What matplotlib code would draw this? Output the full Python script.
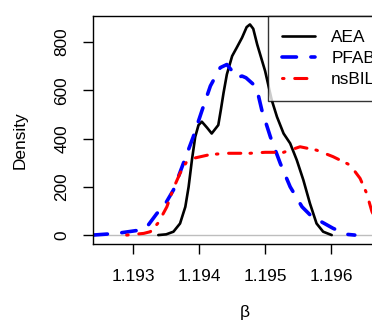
import matplotlib
matplotlib.use("Agg")
import matplotlib.pyplot as plt

# density curves
aea_x = [1.19338, 1.19350, 1.19361, 1.19371, 1.19379, 1.19384, 1.19389, 1.19394, 1.19399,
         1.19404, 1.19412, 1.19419, 1.19429, 1.19433, 1.19437, 1.19442, 1.19450, 1.19457,
         1.19465, 1.19472, 1.19477, 1.19482, 1.19488, 1.19500, 1.19510, 1.19518, 1.19528,
         1.19538, 1.19548, 1.19558, 1.19568, 1.19578, 1.19588, 1.19601]
aea_y = [0, 3, 14, 48, 117, 200, 311, 407, 456,
         470, 445, 421, 456, 521, 590, 666, 742, 777,
         818, 862, 873, 855, 790, 680, 560, 490, 421,
         380, 311, 228, 131, 48, 14, 0]

pfab_x = [1.19239, 1.19275, 1.19311, 1.19321, 1.19336, 1.19346, 1.19361, 1.19376, 1.19391,
          1.19404, 1.19417, 1.19432, 1.19442, 1.19450, 1.19457, 1.19465, 1.19471, 1.19485,
          1.19490, 1.19495, 1.19508, 1.19523, 1.19538, 1.19556, 1.19571, 1.19588, 1.19603,
          1.19624, 1.19636]
pfab_y = [0, 7, 21, 35, 90, 117, 187, 297, 407,
          514, 618, 694, 707, 680, 652, 659, 652, 618,
          576, 518, 407, 297, 200, 117, 76, 51, 28,
          3, 0]

nsbil_x = [1.19290, 1.19316, 1.19326, 1.19338, 1.19351, 1.19361, 1.19371, 1.19381, 1.19391,
           1.19417, 1.19444, 1.19477, 1.19500, 1.19528, 1.19553, 1.19578, 1.19603, 1.19629,
           1.19644, 1.19654, 1.19662, 1.19675, 1.19690]
nsbil_y = [0, 7, 14, 51, 117, 194, 256, 304, 318,
           334, 339, 339, 343, 343, 366, 352, 325, 290,
           235, 173, 97, 30, 0]

x_ticks = [1.193, 1.194, 1.195, 1.196]
y_ticks = [0, 200, 400, 600, 800]

plt.rcParams['font.family'] = ['Liberation Sans', 'DejaVu Sans']

fig = plt.figure(figsize=(3.72, 3.27), dpi=100)
# axes runs past the right edge of the image, as in the reference
ax = fig.add_axes([93 / 372, 83 / 327, (397 - 93) / 372, 228 / 327])

ax.axhline(0, color='#bebebe', lw=1, zorder=1)
ax.plot(aea_x, aea_y, color='black', lw=1.9, label='AEA',
        solid_capstyle='round', solid_joinstyle='round')
ax.plot(pfab_x, pfab_y, color='blue', lw=2.6, linestyle=(0, (4, 4)),
        dash_capstyle='round', dash_joinstyle='round', label='PFAB')
ax.plot(nsbil_x, nsbil_y, color='red', lw=2.2, linestyle=(0, (0.5, 3.5, 4, 3)),
        dash_capstyle='round', dash_joinstyle='round', label='nsBIL')

ax.set_xlim(1.19239, 1.19700)
ax.set_ylim(-37, 908)
ax.set_xticks(x_ticks)
ax.set_xticklabels(['1.193', '1.194', '1.195', '1.196'])
ax.set_yticks(y_ticks)
ax.set_yticklabels([str(v) for v in y_ticks], rotation=90, va='center')
ax.tick_params(axis='x', length=7, width=1, labelsize=12.4, pad=11)
ax.tick_params(axis='y', length=7, width=1, labelsize=12.4, pad=10)
for s in ax.spines.values():
    s.set_linewidth(1)

fig.text(20 / 372, 1 - 140 / 327, 'Density', rotation=90, ha='center', va='center', fontsize=12.4)
fig.text(245 / 372, 1 - 313 / 327, 'β', ha='center', va='center', fontsize=12.4)

leg = ax.legend(loc='upper left', bbox_to_anchor=(268 / 372, 1 - 16 / 327),
                bbox_transform=fig.transFigure, fontsize=12.4, frameon=True,
                fancybox=False, borderaxespad=0, handlelength=1.9,
                borderpad=0.82, labelspacing=0.35, handletextpad=0.95)
leg.get_frame().set_edgecolor('black')
leg.get_frame().set_linewidth(1)

fig.savefig('out.png', dpi=100)
